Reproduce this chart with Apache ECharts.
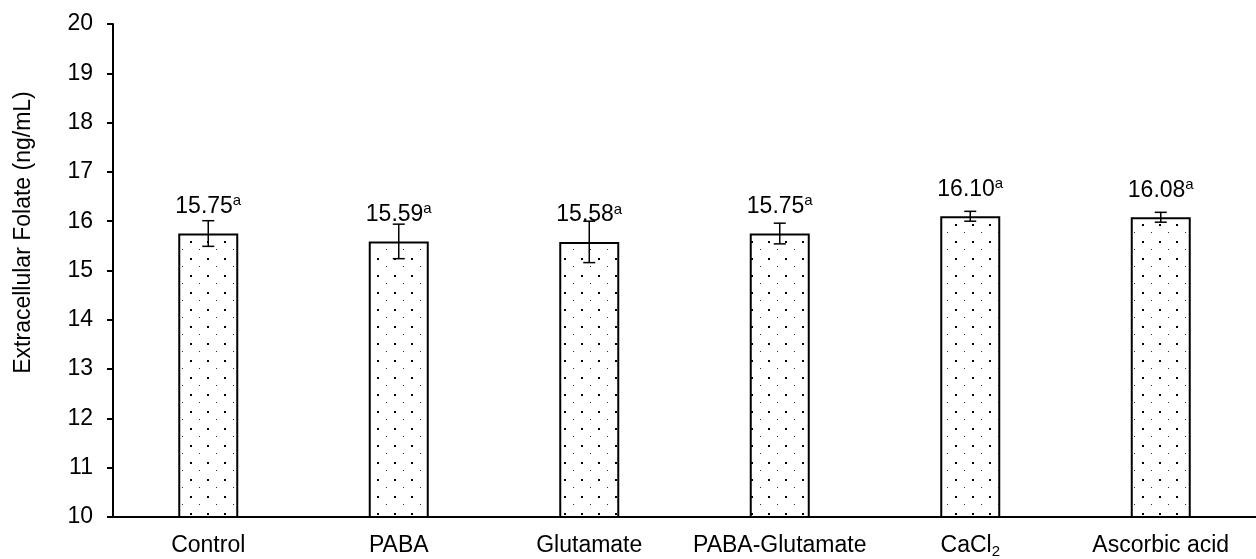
<!DOCTYPE html>
<html>
<head>
<meta charset="utf-8">
<title>Extracellular Folate</title>
<script src="https://cdn.jsdelivr.net/npm/echarts@6/dist/echarts.min.js"></script>
<style>
  html, body { margin: 0; padding: 0; background: #fff; }
  #folate-chart { width: 1256px; height: 559px; }
</style>
</head>
<body>
<div id="folate-chart"></div>
<script>
// data
const categories = ['Control', 'PABA', 'Glutamate', 'PABA-Glutamate', 'CaCl2', 'Ascorbic acid']
const folateMeans = [15.75, 15.59, 15.58, 15.75, 16.10, 16.08]
const folateErrors = [0.26, 0.35, 0.42, 0.21, 0.10, 0.10]
const letters = ['a', 'a', 'a', 'a', 'a', 'a']
const yTicks = [10, 11, 12, 13, 14, 15, 16, 17, 18, 19, 20]

const FONT = 'Liberation Sans, Arial, sans-serif'
const FS = 23

// dotted fill like the excel pattern
const makeDots = () => {
  const c = document.createElement('canvas')
  c.width = 17
  c.height = 17
  const ctx = c.getContext('2d')
  ctx.fillStyle = '#fff'
  ctx.fillRect(0, 0, 17, 17)
  ctx.fillStyle = '#000'
  ctx.fillRect(3, 3, 2, 2)
  ctx.fillStyle = '#333'
  ctx.fillRect(12, 11, 1, 1)
  return c
}

const errorData = folateMeans.map((m, i) => [i, m - folateErrors[i], m + folateErrors[i]])

const chart = echarts.init(document.getElementById('folate-chart'))

const option = {
  animation: false,
  grid: { left: 113, top: 24, width: 1151, bottom: 39 },
  xAxis: {
    type: 'category',
    data: categories,
    axisLine: { lineStyle: { color: '#000', width: 2 } },
    axisTick: { alignWithLabel: true, length: 6, lineStyle: { color: '#000', width: 2 } },
    axisLabel: {
      margin: 16,
      interval: 0,
      color: '#000',
      fontFamily: FONT,
      fontSize: FS,
      formatter: (v) => (v === 'CaCl2' ? '{n|CaCl}{sub|2}' : '{n|' + v + '}'),
      rich: {
        n: { fontFamily: FONT, fontSize: FS, color: '#000', lineHeight: 26 },
        sub: { fontFamily: FONT, fontSize: 15, color: '#000', lineHeight: 15, verticalAlign: 'bottom' }
      }
    }
  },
  yAxis: {
    type: 'value',
    min: yTicks[0],
    max: yTicks[yTicks.length - 1],
    interval: 1,
    name: 'Extracellular Folate (ng/mL)',
    nameLocation: 'middle',
    nameGap: 78,
    // title sits a bit above the plot centre in the original
    nameTextStyle: { color: '#000', fontFamily: FONT, fontSize: FS, padding: [0, 0, 0, 76] },
    axisLine: { show: true, lineStyle: { color: '#000', width: 2 } },
    axisTick: { show: true, length: 6, lineStyle: { color: '#000', width: 2 } },
    splitLine: { show: false },
    axisLabel: { margin: 20, color: '#000', fontFamily: FONT, fontSize: FS }
  },
  series: [
    {
      type: 'bar',
      data: folateMeans,
      barWidth: 60,
      itemStyle: {
        color: { image: makeDots(), repeat: 'repeat' },
        borderColor: '#000',
        borderWidth: 2
      },
      label: {
        show: true,
        position: 'top',
        distance: 14,
        formatter: (p) => '{v|' + p.value.toFixed(2) + '}{s|' + letters[p.dataIndex] + '}',
        rich: {
          v: { fontFamily: FONT, fontSize: FS, color: '#000', lineHeight: 26 },
          s: { fontFamily: FONT, fontSize: 15, color: '#000', lineHeight: 16, verticalAlign: 'top' }
        }
      },
      z: 2
    },
    {
      type: 'custom',
      data: errorData,
      z: 3,
      renderItem: (params, api) => {
        const lo = api.coord([api.value(0), api.value(1)])
        const hi = api.coord([api.value(0), api.value(2)])
        const cap = 6
        const style = { stroke: '#000', lineWidth: 1.5 }
        return {
          type: 'group',
          children: [
            { type: 'line', shape: { x1: hi[0], y1: hi[1], x2: lo[0], y2: lo[1] }, style },
            { type: 'line', shape: { x1: hi[0] - cap, y1: hi[1], x2: hi[0] + cap, y2: hi[1] }, style },
            { type: 'line', shape: { x1: lo[0] - cap, y1: lo[1], x2: lo[0] + cap, y2: lo[1] }, style }
          ]
        }
      }
    }
  ]
}

chart.setOption(option)
</script>
</body>
</html>
